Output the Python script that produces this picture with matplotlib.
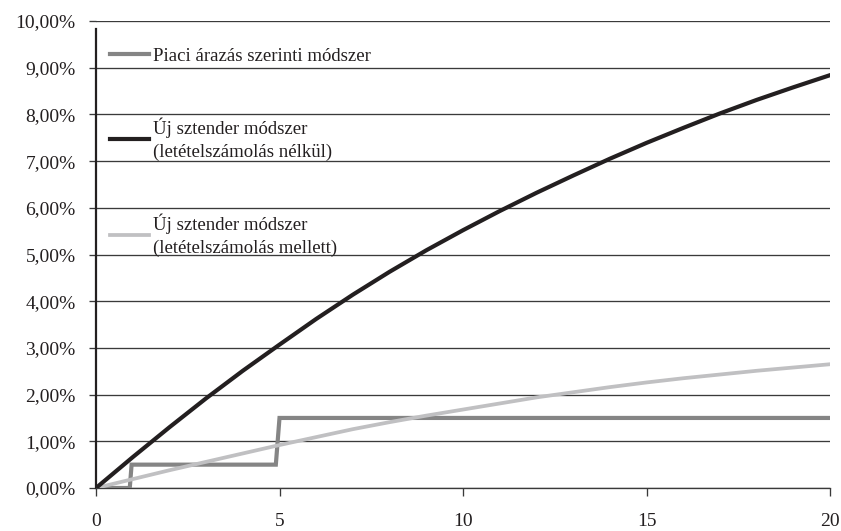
import matplotlib
matplotlib.use("Agg")
import matplotlib.pyplot as plt
from matplotlib.ticker import FuncFormatter

# futamido (ev)
years = list(range(0, 21))

# Uj sztender modszer (letetelszamolas nelkul), %
noNetting = [0.00, 0.66, 1.30, 1.92, 2.51, 3.07, 3.62, 4.14, 4.63, 5.09, 5.52,
             5.93, 6.32, 6.69, 7.05, 7.39, 7.71, 8.02, 8.31, 8.58, 8.84]

# Uj sztender modszer (letetelszamolas mellett), %
withNetting = [0.00, 0.19, 0.38, 0.56, 0.74, 0.92, 1.09, 1.26, 1.41, 1.55, 1.68,
               1.81, 1.94, 2.05, 2.16, 2.26, 2.35, 2.43, 2.51, 2.58, 2.65]

# Piaci arazas szerinti modszer (lepcsos), %
marketX = [0, 0.92, 0.97, 4.9, 5.0, 20]
marketY = [0.0, 0.0, 0.5, 0.5, 1.5, 1.5]

labels = ["Piaci árazás szerinti módszer",
          "Új sztender módszer\n(letételszámolás nélkül)",
          "Új sztender módszer\n(letételszámolás mellett)"]

xTicks = [0, 5, 10, 15, 20]
yTicks = list(range(0, 11))

textColor = "#231f20"
gridColor = "#3a3a3a"

plt.rcParams["font.family"] = ["Liberation Serif", "DejaVu Serif"]
plt.rcParams["font.size"] = 13.5

fig = plt.figure(figsize=(8.41, 5.31), dpi=100)
ax = fig.add_axes([96 / 841, 1 - 488 / 531, 734 / 841, 467 / 531])

ax.plot(marketX, marketY, color="#858585", lw=3.0, label=labels[0],
        solid_joinstyle="miter", zorder=3)
ax.plot(years, noNetting, color=textColor, lw=3.0, label=labels[1], zorder=4)
ax.plot(years, withNetting, color="#c0c0c2", lw=2.7, label=labels[2], zorder=3)

ax.set_xlim(0, 20)
ax.set_ylim(0, 10)
ax.set_xticks(xTicks)
ax.set_yticks(yTicks)
ax.yaxis.set_major_formatter(FuncFormatter(lambda v, p: "{0:.2f}%".format(v).replace(".", ",")))

ax.grid(True, axis="y", color=gridColor, lw=0.95)
ax.set_axisbelow(True)

for side in ["top", "right"]:
    ax.spines[side].set_visible(False)
ax.spines["left"].set_color(textColor)
ax.spines["left"].set_linewidth(1.6)
ax.spines["left"].set_bounds(0, 9.83)
ax.spines["bottom"].set_color(gridColor)
ax.spines["bottom"].set_linewidth(0.95)

ax.tick_params(axis="x", direction="out", length=5.8, width=0.95, color=gridColor,
               pad=12.5, labelsize=14, labelcolor=textColor)
ax.tick_params(axis="y", direction="out", length=5.2, width=0.95, color=gridColor,
               pad=9.5, labelsize=14, labelcolor=textColor)

leg = ax.legend(loc="upper left", bbox_to_anchor=(0.019, 0.943), frameon=False,
                borderpad=0, borderaxespad=0, handlelength=2.08, handletextpad=0.21,
                labelspacing=2.8, fontsize=13.5)
for t in leg.get_texts():
    t.set_color(textColor)
    t.set_linespacing(1.43)

plt.savefig("out.png", dpi=100)
plt.close()
